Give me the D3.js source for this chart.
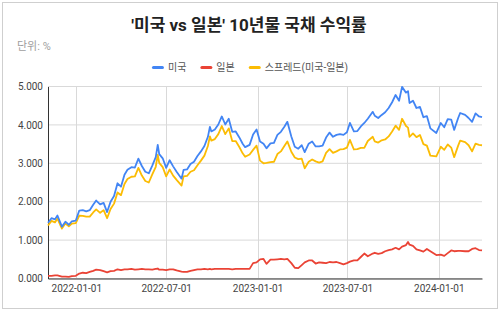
<!DOCTYPE html>
<html lang="ko">
<head>
    <meta charset="UTF-8">
    <title>미국 vs 일본 10년물 국채 수익률</title>
    <script src="https://cdn.jsdelivr.net/npm/d3@7/dist/d3.min.js"></script>
    <style>
        body { margin: 0; background: #fff; }
        text { font-family: Roboto, "Noto Sans CJK KR", sans-serif; }
    </style>
</head>
<body>
<script type="text/javascript">
    // 주간 데이터
    var dates = [
        '2021-11-05', '2021-11-12', '2021-11-19', '2021-11-24', '2021-12-03', '2021-12-10', '2021-12-17', '2021-12-23', '2021-12-31',
        '2022-01-07', '2022-01-14', '2022-01-21', '2022-01-28', '2022-02-04', '2022-02-10', '2022-02-18', '2022-02-25',
        '2022-03-04', '2022-03-11', '2022-03-18', '2022-03-25', '2022-04-01', '2022-04-08', '2022-04-14', '2022-04-22', '2022-04-29',
        '2022-05-06', '2022-05-13', '2022-05-20', '2022-05-27', '2022-06-03', '2022-06-10', '2022-06-14', '2022-06-17', '2022-06-24',
        '2022-07-01', '2022-07-08', '2022-07-15', '2022-07-22', '2022-08-01', '2022-08-05', '2022-08-12', '2022-08-19', '2022-08-26',
        '2022-09-02', '2022-09-09', '2022-09-16', '2022-09-23', '2022-09-27', '2022-09-30', '2022-10-07', '2022-10-14', '2022-10-21',
        '2022-10-28', '2022-11-04', '2022-11-11', '2022-11-18', '2022-11-25', '2022-12-02', '2022-12-07', '2022-12-16', '2022-12-23',
        '2022-12-30', '2023-01-06', '2023-01-13', '2023-01-19', '2023-01-27', '2023-02-03', '2023-02-10', '2023-02-17', '2023-02-24',
        '2023-03-02', '2023-03-10', '2023-03-17', '2023-03-24', '2023-03-31', '2023-04-06', '2023-04-14', '2023-04-21', '2023-04-28',
        '2023-05-05', '2023-05-12', '2023-05-19', '2023-05-26', '2023-06-02', '2023-06-09', '2023-06-16', '2023-06-23', '2023-06-30',
        '2023-07-06', '2023-07-14', '2023-07-21', '2023-07-28', '2023-08-04', '2023-08-11', '2023-08-21', '2023-08-25', '2023-09-01',
        '2023-09-08', '2023-09-15', '2023-09-22', '2023-09-29', '2023-10-06', '2023-10-13', '2023-10-19', '2023-10-27', '2023-10-31',
        '2023-11-03', '2023-11-10', '2023-11-17', '2023-11-24', '2023-12-01', '2023-12-08', '2023-12-15', '2023-12-27', '2024-01-05',
        '2024-01-12', '2024-01-19', '2024-01-26', '2024-02-01', '2024-02-09', '2024-02-13', '2024-02-23', '2024-03-01', '2024-03-08',
        '2024-03-15', '2024-03-22', '2024-03-28'
    ];
    var usYield = [
        1.45, 1.57, 1.54, 1.64, 1.35, 1.48, 1.40, 1.49, 1.51,
        1.77, 1.78, 1.75, 1.78, 1.92, 2.03, 1.93, 1.97,
        1.73, 2.00, 2.15, 2.48, 2.39, 2.70, 2.83, 2.90, 2.89,
        3.12, 2.93, 2.78, 2.74, 2.94, 3.16, 3.48, 3.24, 3.13,
        2.88, 3.08, 2.92, 2.78, 2.60, 2.83, 2.84, 2.98, 3.04,
        3.19, 3.31, 3.45, 3.69, 3.95, 3.83, 3.88, 4.01, 4.22,
        4.01, 4.16, 3.82, 3.83, 3.68, 3.51, 3.42, 3.48, 3.75,
        3.88, 3.57, 3.51, 3.39, 3.52, 3.53, 3.74, 3.82, 3.95,
        4.08, 3.70, 3.43, 3.38, 3.47, 3.29, 3.51, 3.57, 3.44,
        3.44, 3.46, 3.67, 3.80, 3.69, 3.74, 3.76, 3.74, 3.81,
        4.05, 3.83, 3.84, 3.96, 4.05, 4.16, 4.34, 4.24, 4.18,
        4.26, 4.33, 4.44, 4.59, 4.78, 4.63, 4.99, 4.84, 4.88,
        4.57, 4.63, 4.44, 4.47, 4.20, 4.23, 3.91, 3.79, 4.05,
        3.94, 4.15, 4.14, 3.87, 4.18, 4.31, 4.26, 4.18, 4.08,
        4.30, 4.22, 4.20
    ];
    var jpYield = [
        0.07, 0.07, 0.08, 0.08, 0.05, 0.05, 0.04, 0.06, 0.07,
        0.13, 0.15, 0.14, 0.17, 0.20, 0.23, 0.22, 0.19,
        0.16, 0.19, 0.20, 0.24, 0.22, 0.24, 0.24, 0.25, 0.23,
        0.24, 0.25, 0.24, 0.24, 0.23, 0.25, 0.26, 0.23, 0.23,
        0.22, 0.24, 0.24, 0.21, 0.18, 0.17, 0.17, 0.20, 0.22,
        0.24, 0.24, 0.25, 0.24, 0.25, 0.24, 0.25, 0.25, 0.25,
        0.25, 0.25, 0.24, 0.25, 0.25, 0.25, 0.25, 0.25, 0.40,
        0.42, 0.50, 0.51, 0.38, 0.49, 0.49, 0.50, 0.51, 0.50,
        0.51, 0.40, 0.28, 0.27, 0.35, 0.42, 0.47, 0.47, 0.39,
        0.42, 0.41, 0.40, 0.43, 0.42, 0.43, 0.40, 0.37, 0.40,
        0.44, 0.47, 0.47, 0.56, 0.65, 0.58, 0.65, 0.67, 0.64,
        0.66, 0.71, 0.74, 0.76, 0.80, 0.76, 0.83, 0.87, 0.95,
        0.88, 0.85, 0.76, 0.73, 0.70, 0.77, 0.71, 0.61, 0.62,
        0.59, 0.66, 0.73, 0.71, 0.72, 0.72, 0.71, 0.71, 0.77,
        0.79, 0.74, 0.73
    ];
    var spread = [
        1.38, 1.50, 1.46, 1.56, 1.30, 1.43, 1.36, 1.43, 1.44,
        1.64, 1.63, 1.61, 1.61, 1.72, 1.80, 1.71, 1.78,
        1.57, 1.81, 1.95, 2.24, 2.17, 2.46, 2.59, 2.65, 2.66,
        2.88, 2.68, 2.54, 2.50, 2.71, 2.91, 3.22, 3.01, 2.90,
        2.66, 2.84, 2.68, 2.57, 2.42, 2.66, 2.67, 2.78, 2.82,
        2.95, 3.07, 3.20, 3.45, 3.70, 3.59, 3.63, 3.76, 3.97,
        3.76, 3.91, 3.58, 3.58, 3.43, 3.26, 3.17, 3.23, 3.35,
        3.46, 3.07, 3.00, 3.01, 3.03, 3.04, 3.24, 3.31, 3.45,
        3.57, 3.30, 3.15, 3.11, 3.12, 2.87, 3.04, 3.10, 3.05,
        3.02, 3.05, 3.27, 3.37, 3.27, 3.31, 3.36, 3.37, 3.41,
        3.61, 3.36, 3.37, 3.40, 3.40, 3.58, 3.69, 3.57, 3.54,
        3.60, 3.62, 3.70, 3.83, 3.98, 3.87, 4.16, 3.97, 3.93,
        3.69, 3.78, 3.68, 3.74, 3.50, 3.46, 3.20, 3.18, 3.43,
        3.35, 3.49, 3.41, 3.16, 3.46, 3.59, 3.55, 3.47, 3.31,
        3.51, 3.48, 3.47
    ];
    var seriesNames = ['미국', '일본', '스프레드(미국-일본)'];
    var seriesColors = ['#4285f4', '#ea4335', '#fbbc04'];
    var xTickLabels = ['2022-01-01', '2022-07-01', '2023-01-01', '2023-07-01', '2024-01-01'];
    var yTicks = [0, 1, 2, 3, 4, 5];

    var width = 500;
    var height = 311;
    var margin = {top: 86.5, right: 18, bottom: 32.5, left: 48};
    var innerW = width - margin.left - margin.right;
    var innerH = height - margin.top - margin.bottom;

    var parse = d3.utcParse('%Y-%m-%d');
    var dateObjs = dates.map(parse);
    var allSeries = [usYield, jpYield, spread];

    var svg = d3.select('body').append('svg')
            .attr('width', width)
            .attr('height', height);

    // 바깥 테두리
    svg.append('rect')
            .attr('x', 2.5).attr('y', 2.5)
            .attr('width', width - 5).attr('height', height - 5)
            .attr('fill', '#fff')
            .attr('stroke', '#cfcfcf');

    svg.append('text')
            .attr('x', width / 2 - 1)
            .attr('y', 31)
            .attr('text-anchor', 'middle')
            .attr('font-size', 17)
            .attr('font-weight', 'bold')
            .attr('fill', '#222')
            .text("'미국 vs 일본' 10년물 국채 수익률");

    svg.append('text')
            .attr('x', 17)
            .attr('y', 50)
            .attr('font-size', 11)
            .attr('fill', '#9e9e9e')
            .text('단위: %');

    // 범례
    var legend = svg.append('g');
    var lx = 0;
    seriesNames.forEach(function (name, i) {
        var item = legend.append('g').attr('transform', 'translate(' + lx + ',0)');
        item.append('rect')
                .attr('x', 0).attr('y', -1.5)
                .attr('width', 12).attr('height', 3)
                .attr('rx', 1.5)
                .attr('fill', seriesColors[i]);
        var t = item.append('text')
                .attr('x', 16)
                .attr('y', 3.5)
                .attr('font-size', 10)
                .attr('fill', '#555')
                .text(name);
        lx += 16 + t.node().getComputedTextLength() + 14;
    });
    var legendW = lx - 14;
    legend.attr('transform', 'translate(' + (width / 2 - legendW / 2) + ',67.5)');

    var x = d3.scaleUtc()
            .domain(d3.extent(dateObjs))
            .range([0, innerW]);
    var y = d3.scaleLinear()
            .domain([0, 5])
            .range([innerH, 0]);

    var g = svg.append('g')
            .attr('transform', 'translate(' + margin.left + ',' + margin.top + ')');

    var xTicks = xTickLabels.map(parse);

    // 격자선
    g.append('g').selectAll('line')
            .data(yTicks)
            .enter()
            .append('line')
            .attr('x1', 0).attr('x2', innerW)
            .attr('y1', function (d) { return y(d); })
            .attr('y2', function (d) { return y(d); })
            .attr('stroke', '#d9d9d9');
    g.append('g').selectAll('line')
            .data(xTicks)
            .enter()
            .append('line')
            .attr('x1', function (d) { return Math.round(x(d)) + 0.5; })
            .attr('x2', function (d) { return Math.round(x(d)) + 0.5; })
            .attr('y1', 0).attr('y2', innerH)
            .attr('stroke', '#d9d9d9');

    var yAxis = g.append('g')
            .call(d3.axisLeft(y).tickValues(yTicks).tickFormat(d3.format('.3f')).tickSize(0).tickPadding(5));
    yAxis.select('.domain').attr('stroke', '#333');
    yAxis.selectAll('text').attr('font-size', 10).attr('fill', '#444')
            .attr('font-family', 'Roboto, sans-serif');

    var xAxis = g.append('g')
            .attr('transform', 'translate(0,' + innerH + ')')
            .call(d3.axisBottom(x).tickValues(xTicks).tickFormat(d3.utcFormat('%Y-%m-%d')).tickSize(0).tickPadding(6));
    xAxis.select('.domain').attr('stroke', '#333');
    xAxis.selectAll('text').attr('font-size', 10).attr('fill', '#444')
            .attr('font-family', 'Roboto, sans-serif');

    var line = d3.line()
            .x(function (d) { return x(d[0]); })
            .y(function (d) { return y(d[1]); });

    // 스프레드, 일본, 미국 순으로 그림
    [2, 1, 0].forEach(function (i) {
        var pts = dateObjs.map(function (d, j) { return [d, allSeries[i][j]]; });
        g.append('path')
                .datum(pts)
                .attr('fill', 'none')
                .attr('stroke', seriesColors[i])
                .attr('stroke-width', 1.8)
                .attr('stroke-linejoin', 'round')
                .attr('d', line);
    });
</script>
</body>
</html>
